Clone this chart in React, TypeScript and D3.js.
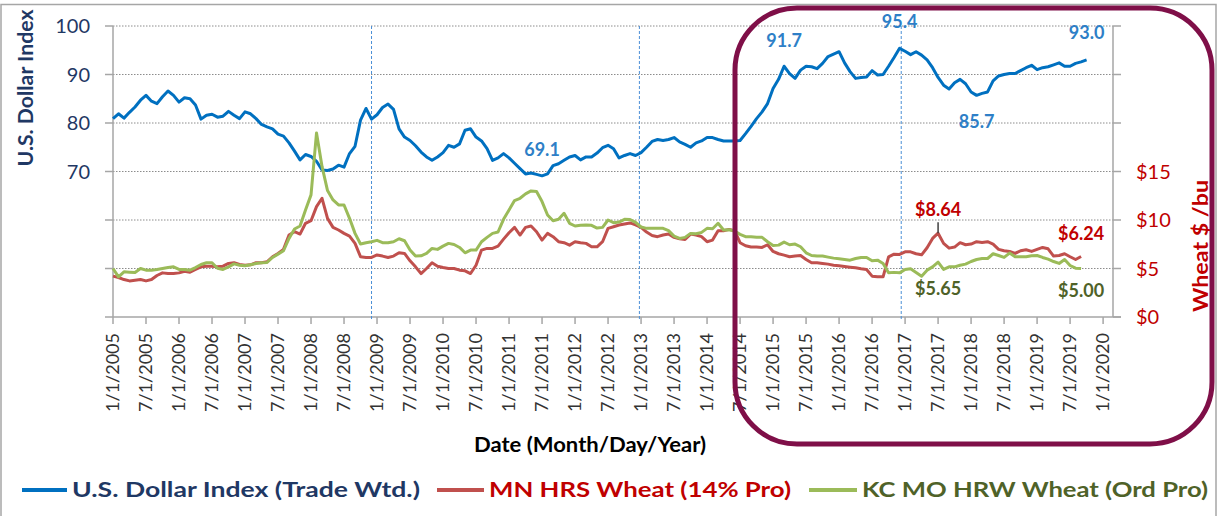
import React from "react";
import * as d3 from "d3";

// monthly series, first value = Jan 2005
const START_YEAR = 2005;

const dollarIndex = [
  80.9, 81.9, 81.0, 82.2, 83.3, 84.7, 85.7, 84.5, 84.0, 85.4, 86.6, 85.7,
  84.3, 85.2, 85.0, 83.7, 80.8, 81.6, 81.8, 81.2, 81.4, 82.4, 81.6, 80.9,
  82.3, 81.9, 80.9, 79.7, 79.2, 78.8, 77.7, 77.3, 75.9, 74.2, 72.4, 73.5,
  73.1, 72.1, 70.3, 70.2, 70.5, 71.3, 70.9, 73.7, 75.2, 80.6, 83.0, 80.8,
  81.7, 83.2, 83.9, 82.8, 78.8, 77.1, 76.4, 75.3, 74.0, 73.0, 72.3, 73.0,
  73.9, 75.4, 75.0, 75.7, 78.5, 78.8, 77.1, 76.3, 74.7, 72.3, 72.8, 73.7,
  72.8, 71.7, 70.6, 69.5, 69.7, 69.4, 69.1, 69.5, 71.2, 71.6, 72.3, 73.0,
  73.3, 72.4, 73.0, 73.0, 73.8, 74.9, 75.4, 74.7, 72.8, 73.3, 73.7, 73.3,
  73.9, 75.0, 76.2, 76.6, 76.4, 76.6, 77.0, 76.1, 75.6, 75.0, 75.9, 76.3,
  77.0, 77.0, 76.6, 76.3, 76.3, 76.3, 76.4, 77.8, 79.3, 80.9, 82.3, 84.0,
  87.1, 89.0, 91.7, 90.2, 89.2, 90.9, 91.7, 91.6, 91.2, 92.3, 93.7, 94.2,
  94.7, 92.4, 90.6, 89.2, 89.4, 89.5, 90.8, 89.9, 90.0, 91.7, 93.5, 95.4,
  94.8, 94.1, 94.7, 94.0, 93.0, 91.4, 89.4, 87.8, 87.0, 88.3, 89.0, 88.1,
  86.4, 85.7, 86.1, 86.4, 88.7, 89.7, 90.0, 90.2, 90.2, 90.8, 91.4, 91.9,
  91.0, 91.4, 91.6, 92.0, 92.4, 91.7, 91.7, 92.3, 92.6, 93.0,
];

const hrsWheat = [
  4.21, 4.07, 3.86, 3.72, 3.79, 3.86, 3.72, 3.86, 4.28, 4.55, 4.48, 4.48,
  4.55, 4.72, 4.62, 4.9, 5.17, 5.24, 5.24, 5.17, 5.24, 5.52, 5.59, 5.41,
  5.34, 5.38, 5.59, 5.59, 5.69, 6.21, 6.55, 6.97, 8.45, 8.79, 8.55, 9.66,
  9.93, 11.38, 12.24, 10.17, 9.24, 8.97, 8.62, 8.34, 7.59, 6.21, 6.14, 6.14,
  6.4, 6.28, 6.14, 6.28, 6.62, 6.55, 5.79, 5.17, 4.48, 5.0, 5.59, 5.24,
  5.1, 5.0, 5.0, 4.83, 4.76, 4.48, 5.34, 6.9, 7.07, 7.07, 7.31, 8.03,
  8.69, 9.24, 8.45, 9.24, 9.38, 8.79, 7.93, 8.62, 8.28, 7.76, 7.66, 7.41,
  7.76, 7.66, 7.59, 7.24, 7.24, 7.76, 9.14, 9.31, 9.48, 9.59, 9.7, 9.5,
  9.24, 8.76, 8.41, 8.28, 8.45, 8.55, 8.21, 8.07, 8.0, 8.55, 8.45, 8.28,
  7.76, 7.93, 8.9, 8.9, 9.03, 8.9, 7.66, 7.34, 7.21, 7.21, 7.17, 7.45,
  6.76, 6.52, 6.38, 6.21, 6.28, 6.34, 5.93, 5.59, 5.59, 5.52, 5.45, 5.34,
  5.28, 5.21, 5.14, 5.07, 4.97, 4.9, 4.21, 4.14, 4.14, 6.2, 6.48, 6.45,
  6.72, 6.72, 6.52, 6.41, 7.14, 8.1, 8.64, 7.59, 7.1, 7.21, 7.66, 7.45,
  7.52, 7.76, 7.69, 7.76, 7.52, 6.97, 6.83, 6.76, 6.55, 6.83, 6.93, 6.76,
  6.97, 7.17, 7.03, 6.28, 6.34, 6.52, 6.21, 5.93, 6.24,
];

const hrwWheat = [
  5.0, 4.14, 4.66, 4.62, 4.59, 5.0, 4.83, 4.83, 4.9, 5.0, 5.1, 5.17,
  4.9, 4.9, 4.83, 5.1, 5.41, 5.59, 5.59, 5.03, 4.9, 5.17, 5.48, 5.34,
  5.28, 5.38, 5.52, 5.59, 5.62, 6.14, 6.48, 6.83, 8.1, 9.07, 9.38, 11.03,
  12.59, 18.97, 15.52, 13.03, 12.07, 11.55, 11.55, 10.17, 8.62, 7.52, 7.66, 7.76,
  7.9, 7.66, 7.66, 7.76, 8.07, 7.86, 6.9, 6.28, 6.31, 6.55, 7.07, 6.97,
  7.31, 7.59, 7.48, 7.17, 6.62, 6.9, 6.9, 7.76, 8.21, 8.62, 8.76, 10.07,
  11.03, 12.0, 12.24, 12.69, 13.0, 12.93, 11.9, 10.52, 9.93, 10.07, 10.69, 9.66,
  9.38, 9.45, 9.48, 9.45, 9.17, 9.24, 10.0, 9.72, 9.79, 10.07, 10.05, 9.75,
  9.28, 9.14, 9.14, 9.14, 9.14, 8.9, 8.34, 8.1, 8.21, 8.62, 8.59, 8.72,
  9.14, 9.1, 9.66, 8.97, 9.0, 8.86, 8.52, 8.28, 8.28, 8.21, 8.21, 7.76,
  7.38, 7.41, 7.72, 7.45, 7.52, 7.24, 6.62, 6.34, 6.28, 6.28, 6.17, 6.07,
  6.0, 5.93, 5.86, 6.03, 6.14, 6.14, 5.79, 5.86, 5.52, 4.55, 4.6, 4.55,
  4.9, 4.97, 4.59, 4.21, 4.83, 5.17, 5.65, 4.9, 5.17, 5.17, 5.34, 5.45,
  5.72, 5.93, 6.03, 6.03, 6.52, 6.34, 6.14, 6.59, 6.21, 6.21, 6.21, 6.31,
  6.34, 6.14, 5.97, 5.72, 5.52, 5.93, 5.31, 5.03, 5.0,
];

const leftTickValues = [70, 80, 90, 100];
const gridValues = [50, 60, 70, 80, 90, 100];
const rightTickValues = [0, 5, 10, 15];
const rightMinorTicks = [20, 25, 30];
const markerMonths = [47, 95.7, 143.3];

const annotations = [
  { text: "69.1", series: "usd", month: 78, dy: -20 },
  { text: "91.7", series: "usd", month: 122, dy: -19 },
  { text: "95.4", series: "usd", month: 143, dy: -20 },
  { text: "85.7", series: "usd", month: 157, dy: 33 },
  { text: "93.0", series: "usd", month: 177, dy: -21 },
  { text: "$8.64", series: "hrs", month: 150, dy: -17 },
  { text: "$6.24", series: "hrs", month: 176, dy: -16 },
  { text: "$5.65", series: "hrw", month: 150, dy: 33 },
  { text: "$5.00", series: "hrw", month: 176, dy: 28 },
];

const FONT = "Lato, 'Open Sans', sans-serif";
const NAVY = "#1f3864";
const RED_TXT = "#c00000";
const GREEN_TXT = "#4f6228";
const BLUE = "#0070c0";
const RED = "#c0504d";
const GREEN = "#9bbb59";
const ANNO_BLUE = "#2e7fc7";
const AXIS = "#a6a6a6";

const W = 1217;
const H = 516;
const plot = { left: 113, right: 1113, top: 26, bottom: 317 };

export default function App() {
  const x = d3.scaleLinear().domain([0, 181.8]).range([plot.left, plot.right]);
  const yL = d3.scaleLinear().domain([40, 100]).range([plot.bottom, plot.top]);
  const yR = d3.scaleLinear().domain([0, 30]).range([plot.bottom, plot.top]);

  const lineL = d3.line<number>().x((_, i) => x(i)).y((d) => yL(d));
  const lineR = d3.line<number>().x((_, i) => x(i)).y((d) => yR(d));

  const xTicks = d3.range(0, 181, 6);
  const tickLabel = (m: number) =>
    `${m % 12 === 0 ? 1 : 7}/1/${START_YEAR + Math.floor(m / 12)}`;

  const seriesInfo: Record<string, { data: number[]; y: (v: number) => number; color: string }> = {
    usd: { data: dollarIndex, y: yL, color: ANNO_BLUE },
    hrs: { data: hrsWheat, y: yR, color: RED_TXT },
    hrw: { data: hrwWheat, y: yR, color: GREEN_TXT },
  };

  const legend = [
    { label: "U.S. Dollar Index (Trade Wtd.)", color: BLUE, text: NAVY, x0: 22, x1: 67, len: 348 },
    { label: "MN HRS Wheat (14% Pro)", color: RED, text: RED_TXT, x0: 437, x1: 484, len: 302 },
    { label: "KC MO HRW Wheat (Ord Pro)", color: GREEN, text: GREEN_TXT, x0: 809, x1: 857, len: 346 },
  ];

  return (
    <svg
      width={W}
      height={H}
      style={{ position: "absolute", left: 0, top: 0, background: "#fff" }}
      fontFamily={FONT}
    >
      <rect x={1} y={4.5} width={W - 2} height={H} fill="#fff" stroke={AXIS} strokeWidth={1.5} />

      {/* gridlines */}
      {gridValues.map((v) => (
        <line key={v} x1={plot.left} x2={plot.right} y1={yL(v)} y2={yL(v)}
          stroke="#8c8c8c" strokeWidth={1} strokeDasharray="1.5 1.5" />
      ))}

      {/* axes */}
      <line x1={plot.left} x2={plot.left} y1={plot.top} y2={plot.bottom} stroke={AXIS} strokeWidth={1.5} />
      <line x1={plot.right} x2={plot.right} y1={plot.top} y2={plot.bottom} stroke={AXIS} strokeWidth={1.5} />
      <line x1={plot.left - 8} x2={plot.right + 8} y1={plot.bottom} y2={plot.bottom} stroke={AXIS} strokeWidth={1.5} />
      {gridValues.map((v) => (
        <line key={"lt" + v} x1={plot.left - 8} x2={plot.left} y1={yL(v)} y2={yL(v)} stroke={AXIS} strokeWidth={1.5} />
      ))}
      {[...rightTickValues, ...rightMinorTicks].map((v) => (
        <line key={"rt" + v} x1={plot.right} x2={plot.right + 8} y1={yR(v)} y2={yR(v)} stroke={AXIS} strokeWidth={1.5} />
      ))}
      {xTicks.map((m) => (
        <line key={"xt" + m} x1={x(m)} x2={x(m)} y1={plot.bottom} y2={plot.bottom + 7} stroke={AXIS} strokeWidth={1.5} />
      ))}

      {/* tick labels */}
      {leftTickValues.map((v) => (
        <text key={"ll" + v} x={90} y={yL(v) + 7} textAnchor="end" fontSize={20} fill={NAVY}>{v}</text>
      ))}
      {rightTickValues.map((v) => (
        <text key={"rl" + v} x={1136} y={yR(v) + 7} fontSize={20} fill={RED_TXT}>${v}</text>
      ))}
      {xTicks.map((m) => (
        <text key={"xl" + m} transform={`translate(${x(m) + 6},${333}) rotate(-90)`}
          textAnchor="end" fontSize={18} fill="#333">{tickLabel(m)}</text>
      ))}

      {/* axis titles */}
      <text transform="translate(33,88) rotate(-90)" textAnchor="middle" fontSize={20} fontWeight="bold"
        fill={NAVY} textLength={157} lengthAdjust="spacingAndGlyphs">U.S. Dollar Index</text>
      <text transform="translate(1208,246) rotate(-90)" textAnchor="middle" fontSize={21} fontWeight="bold"
        fill={RED_TXT} textLength={132} lengthAdjust="spacingAndGlyphs">Wheat $ /bu</text>
      <text x={590} y={452} textAnchor="middle" fontSize={20} fontWeight="bold" fill="#000"
        textLength={232} lengthAdjust="spacingAndGlyphs">Date (Month/Day/Year)</text>

      {/* event markers */}
      {markerMonths.map((m) => (
        <line key={"mk" + m} x1={x(m)} x2={x(m)} y1={plot.top} y2={plot.bottom + 3}
          stroke="#4a8fd6" strokeWidth={1} strokeDasharray="3 2" />
      ))}

      {/* series */}
      <path d={lineL(dollarIndex) ?? ""} fill="none" stroke={BLUE} strokeWidth={3} strokeLinejoin="round" />
      <path d={lineR(hrsWheat) ?? ""} fill="none" stroke={RED} strokeWidth={3} strokeLinejoin="round" />
      <path d={lineR(hrwWheat) ?? ""} fill="none" stroke={GREEN} strokeWidth={3} strokeLinejoin="round" />

      {/* annotations */}
      {annotations.map((a) => {
        const s = seriesInfo[a.series];
        const px = x(a.month);
        const py = s.y(s.data[a.month]);
        return (
          <text key={a.text} x={px} y={py + a.dy} textAnchor="middle" fontSize={18}
            fontWeight="bold" fill={s.color}>{a.text}</text>
        );
      })}
      <line x1={x(150)} x2={x(150)} y1={yR(hrsWheat[150]) - 11} y2={yR(hrsWheat[150])} stroke="#404040" strokeWidth={1.5} />

      {/* highlight box */}
      <rect x={735} y={8} width={477} height={436} rx={62} ry={62} fill="none" stroke="#7f0f48" strokeWidth={5} />

      {/* legend */}
      {legend.map((l) => (
        <g key={l.label}>
          <line x1={l.x0} x2={l.x1} y1={490} y2={490} stroke={l.color} strokeWidth={4} />
          <text x={l.x1 + 5} y={497} fontSize={21} fontWeight="bold" fill={l.text}
            textLength={l.len} lengthAdjust="spacingAndGlyphs">{l.label}</text>
        </g>
      ))}
    </svg>
  );
}
